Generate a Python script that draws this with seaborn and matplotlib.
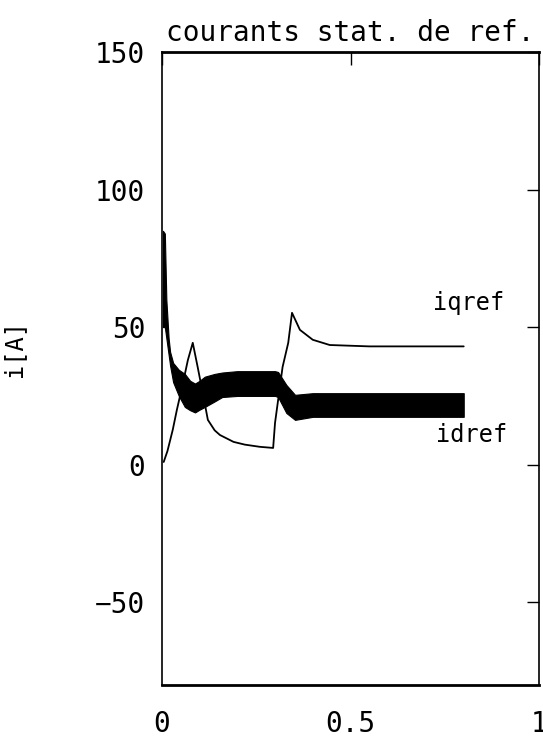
import numpy as np
import pandas as pd
import matplotlib
matplotlib.use('Agg')
import matplotlib.pyplot as plt
import seaborn as sns

# iqref reference (thin line)
t_iq = [0.005, 0.015, 0.029, 0.040, 0.055, 0.069, 0.082, 0.095, 0.110, 0.122, 0.140, 0.154,
        0.190, 0.220, 0.260, 0.295, 0.300, 0.320, 0.335, 0.345, 0.366, 0.400, 0.445, 0.550, 0.800]
iqref = [1.0, 5.0, 12.7, 20.0, 29.0, 38.0, 44.3, 35.5, 25.0, 16.3, 12.5, 10.8,
         8.3, 7.3, 6.5, 6.1, 15.2, 35.5, 44.3, 55.2, 49.0, 45.4, 43.5, 43.0, 43.0]

# idref reference, drawn as the band it forms (ripple envelope)
t_id = [0.003, 0.008, 0.012, 0.018, 0.022, 0.030, 0.045, 0.061, 0.075, 0.088, 0.100, 0.114,
        0.140, 0.160, 0.200, 0.250, 0.300, 0.308, 0.330, 0.353, 0.400, 0.600, 0.800]
idref_hi = [85.0, 84.0, 60.0, 46.0, 41.0, 37.0, 34.5, 33.0, 30.5, 29.5, 30.5, 32.0,
            33.0, 33.5, 34.0, 34.0, 34.0, 33.7, 29.0, 25.4, 26.0, 26.0, 26.0]
idref_lo = [50.0, 50.0, 46.0, 40.0, 36.0, 30.0, 25.0, 21.0, 19.8, 19.0, 20.0, 21.0,
            23.0, 24.6, 25.0, 25.0, 25.0, 24.6, 18.8, 16.3, 17.4, 17.4, 17.4]

x_ticks = [0, 0.5, 1]
x_labels = ['0', '0.5', '1']
y_ticks = [-50, 0, 50, 100, 150]

sns.set_style('white')
plt.rcParams['font.family'] = ['DejaVu Sans Mono', 'DejaVu Sans']
plt.rcParams['text.color'] = 'black'
plt.rcParams['axes.labelcolor'] = 'black'

fig = plt.figure(figsize=(5.43, 7.42), dpi=100)
ax = fig.add_axes([0.298, 0.077, 0.695, 0.853])

df_iq = pd.DataFrame({'t': t_iq, 'i': iqref})
sns.lineplot(data=df_iq, x='t', y='i', ax=ax, color='black', linewidth=1.3)
ax.fill_between(t_id, idref_lo, idref_hi, color='black', linewidth=0.8, edgecolor='black')

ax.text(0.719, 58.8, 'iqref', fontsize=17, va='center', ha='left', color='black')
ax.text(0.727, 10.8, 'idref', fontsize=17, va='center', ha='left', color='black')

ax.set_xlim(0, 1)
ax.set_ylim(-80, 150)
ax.set_xticks(x_ticks)
ax.set_xticklabels(x_labels)
ax.set_yticks(y_ticks)
ax.tick_params(axis='both', direction='in', length=9, width=1, labelsize=20,
               top=True, right=True, colors='black')
ax.tick_params(axis='x', pad=18)
ax.tick_params(axis='y', pad=12)
for sp in ax.spines.values():
    sp.set_color('black')
    sp.set_linewidth(1.2)
ax.spines['top'].set_linewidth(2)
ax.spines['bottom'].set_linewidth(2)

ax.set_xlabel('')
ax.set_ylabel('i[A]', fontsize=17, color='black')
ax.yaxis.set_label_coords(-0.36, 0.532)
ax.set_title('courants stat. de ref.', fontsize=20, pad=8, color='black')

fig.savefig('out.png', dpi=100)
